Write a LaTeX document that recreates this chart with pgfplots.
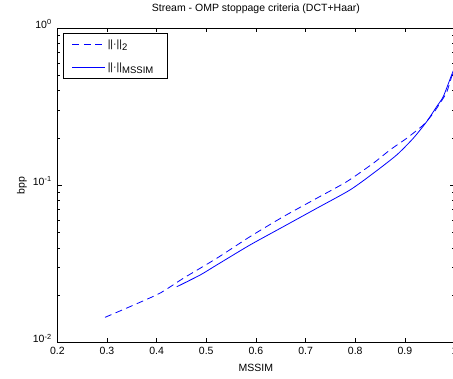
\documentclass[border=0pt]{standalone}
\usepackage{pgfplots}
\pgfplotsset{compat=1.18}
\usepackage{fontspec}
\setmainfont{Liberation Sans}

\newcommand{\sub}[1]{\raisebox{-3pt}{\fontsize{9.5}{10}\selectfont #1}}

\begin{document}
\begin{tikzpicture}
\begin{axis}[
  name=ax,
  scale only axis, width=397.3pt, height=314.5pt,
  ymode=log, xmin=0.2, xmax=1, ymin=0.01, ymax=1,
  xtick={0.2,0.3,0.4,0.5,0.6,0.7,0.8,0.9,1},
  xticklabels={0.2,0.3,0.4,0.5,0.6,0.7,0.8,0.9,1},
  ytick={0.01,0.1,1},
  yticklabels={10\textsuperscript{-2},10\textsuperscript{-1},10\textsuperscript{0}},
  minor ytick={0.02,0.03,0.04,0.05,0.06,0.07,0.08,0.09,0.2,0.3,0.4,0.5,0.6,0.7,0.8,0.9},
  tick align=inside, major tick length=4.5pt, minor tick length=2.5pt,
  every tick/.style={black, line width=0.6pt},
  axis line style={line width=0.7pt},
  font=\fontsize{10.5}{12}\selectfont,
  xticklabel style={anchor=center, inner sep=0pt, yshift=-8.3pt, font=\fontsize{10.5}{12}\selectfont},
  yticklabel style={anchor=base east, inner sep=0pt, xshift=-5.5pt, yshift=-0.5pt, font=\fontsize{10.5}{12}\selectfont},
  title={Stream - OMP stoppage criteria (DCT+Haar)},
  title style={at={(axis description cs:0.5,1)}, anchor=center, yshift=13pt, inner sep=0pt, font=\fontsize{10.5}{12}\selectfont},
  xlabel={MSSIM},
  xlabel style={at={(axis description cs:0.5,0)}, anchor=center, yshift=-25.5pt, inner sep=0pt, font=\fontsize{10.5}{12}\selectfont},
  ylabel={bpp},
  every axis y label/.style={at={(axis description cs:-0.0889,0.5)}, rotate=90, anchor=center, inner sep=0pt, font=\fontsize{10.5}{12}\selectfont},
  legend style={at={(axis description cs:0.0135,0.983)}, anchor=north west, draw=black, line width=0.6pt, fill=white,
    inner xsep=9pt, inner ysep=6pt, row sep=14pt, column sep=2pt, nodes={inner sep=0pt},
    font=\fontsize{10.5}{12}\selectfont},
  legend cell align=left,
  legend image code/.code={\draw[#1] (0pt,0pt) -- (33pt,0pt);},
]
\addplot[blue, line width=0.8pt, dash pattern=on 7pt off 4.5pt, smooth, tension=0.4] coordinates {
(0.296,0.01445) (0.35,0.0171) (0.4068,0.0206) (0.4537,0.0256) (0.5209,0.0343)
(0.588,0.0471) (0.655,0.0631) (0.7222,0.0826) (0.7826,0.1053) (0.8362,0.138)
(0.8698,0.1676) (0.9034,0.1989) (0.9369,0.2416) (0.957,0.2868) (0.9705,0.332)
(0.984,0.39) (0.994,0.49) (1.0,0.56)
};
\addlegendentry{\makebox[51pt][l]{||·||\sub{2}}}
\addplot[blue, line width=0.8pt, smooth, tension=0.4] coordinates {
(0.4404,0.0226) (0.488,0.0269) (0.5209,0.0311) (0.588,0.0417) (0.655,0.0545)
(0.7222,0.0713) (0.7893,0.0933) (0.8362,0.1191) (0.8833,0.1557) (0.9167,0.1989)
(0.9437,0.2535) (0.9638,0.3159) (0.9771,0.3657) (0.994,0.5025) (1.0,0.56)
};
\addlegendentry{\makebox[51pt][l]{||·||\sub{MSSIM}\rule[-9pt]{0pt}{9pt}}}
\end{axis}
\pgfresetboundingbox
\useasboundingbox ([xshift=-57.3pt,yshift=-36.5pt]ax.south west) rectangle ++(453pt,379pt);
\end{tikzpicture}
\end{document}
